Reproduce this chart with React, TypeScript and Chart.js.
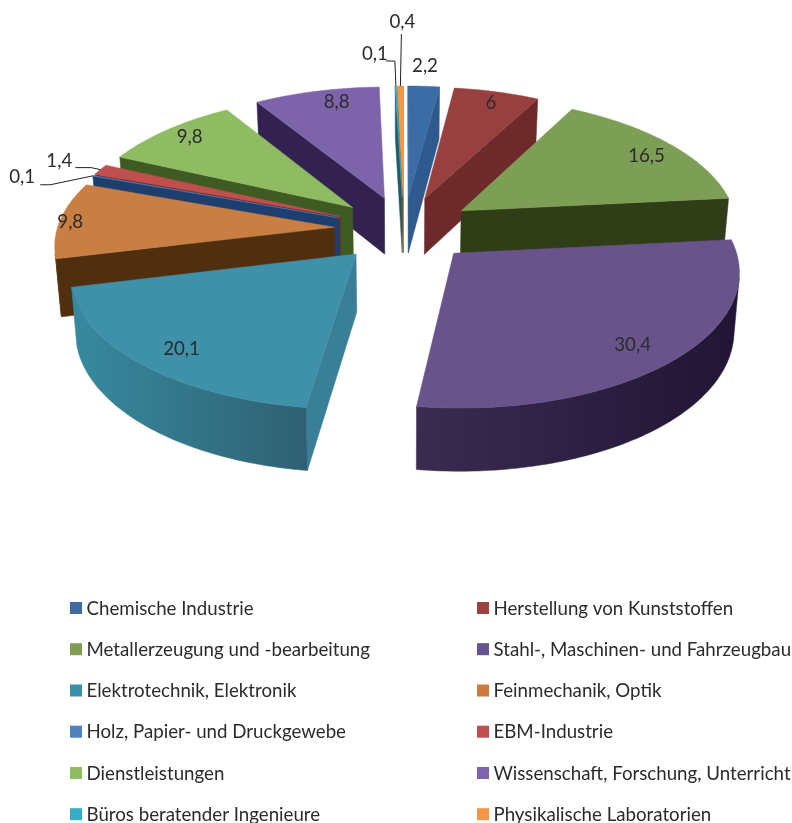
import React, { useEffect, useRef } from "react";
import { Chart, registerables } from "chart.js";

Chart.register(...registerables);

const categories = [
  "Chemische Industrie",
  "Herstellung von Kunststoffen",
  "Metallerzeugung und -bearbeitung",
  "Stahl-, Maschinen- und Fahrzeugbau",
  "Elektrotechnik, Elektronik",
  "Feinmechanik, Optik",
  "Holz, Papier- und Druckgewebe",
  "EBM-Industrie",
  "Dienstleistungen",
  "Wissenschaft, Forschung, Unterricht",
  "Büros beratender Ingenieure",
  "Physikalische Laboratorien",
];
const shares = [2.2, 6, 16.5, 30.4, 20.1, 9.8, 0.1, 1.4, 9.8, 8.8, 0.1, 0.4];
const shareLabels = ["2,2", "6", "16,5", "30,4", "20,1", "9,8", "0,1", "1,4", "9,8", "8,8", "0,1", "0,4"];

const topColors = ["#3C6CA6", "#98403F", "#7D9E55", "#69538B", "#3F90A9", "#C97E43", "#4F81BD", "#C0504D", "#8FBB62", "#7D63A9", "#37A9C4", "#F79646"];
const legendColors = ["#3F6BA5", "#9B4240", "#7F9D52", "#66548F", "#3B8FA8", "#CB7B3D", "#4F81BD", "#C0504D", "#8FBB62", "#7E64AA", "#37ACC8", "#F79646"];
const wallColors = ["#2E5A8F", "#6E2A2A", "#303E18", "#3A2B55", "#3A7F98", "#4F2F0E", "#1E3F6E", "#7A2322", "#405A24", "#33214F", "#1F5A6A", "#A8601F"];
const outerStart = ["#2E5A8F", "#6E2A2A", "#303E18", "#231535", "#2F6072", "#4F2F0E", "#1E3F6E", "#7A2322", "#405A24", "#33214F", "#1F5A6A", "#A8601F"];
const outerEnd = ["#2E5A8F", "#6E2A2A", "#303E18", "#3A2B52", "#37899F", "#4F2F0E", "#1E3F6E", "#7A2322", "#405A24", "#33214F", "#1F5A6A", "#A8601F"];

// label placement relative to the projected mid-angle anchor
const labelRadius = [1.16, 0.82, 0.82, 0.82, 0.82, 0.82, 1, 1, 0.82, 0.82, 1, 1];
const labelNudge: [number, number][] = [[-1, -5], [6, -7], [12, 0], [2, 5], [-3, 5], [-39, 0], [-71, 1], [-41, -9], [-9, -6], [9, -7], [-21, -32], [2, -64]];
const leaderStart: ([number, number] | null)[] = [null, null, null, null, null, null, [18, 8], [16, 7], null, null, [11, 7], [-1, 12]];
const leaderElbow: ([number, number] | null)[] = [null, null, null, null, null, null, [28, 8], [32, 7], null, null, [20, 7], null];

// camera model of the tilted pie
const CX = 404;
const CY = 229;
const WORLD_R = 277;
const TILT = 0.472;
const CAMERA = 2390;
const DEPTH = 57;
const FONT = '18.7px Lato, "Open Sans", sans-serif';
const TEXT = "#2B2B2B";

const project = (X: number, v: number, bottom: boolean): [number, number] => {
  const p = 1 / (1 - v / CAMERA);
  const b = bottom ? 0.984 : 1;
  return [CX + X * p * b, CY + v * TILT * p * b + (bottom ? DEPTH * p : 0)];
};

const area = (pts: [number, number][]) => {
  let s = 0;
  pts.forEach((p, i) => {
    const q = pts[(i + 1) % pts.length];
    s += p[0] * q[1] - q[0] * p[1];
  });
  return s;
};

const poly = (ctx: CanvasRenderingContext2D, pts: [number, number][], fill: any) => {
  ctx.beginPath();
  pts.forEach((p, i) => (i ? ctx.lineTo(p[0], p[1]) : ctx.moveTo(p[0], p[1])));
  ctx.closePath();
  ctx.fillStyle = fill;
  ctx.fill();
  ctx.strokeStyle = fill;
  ctx.lineWidth = 0.5;
  ctx.stroke();
};

const geometry = (arc: any) => {
  const a0 = arc.startAngle + Math.PI / 2;
  const a1 = arc.endAngle + Math.PI / 2;
  const mid = (a0 + a1) / 2;
  const E = arc.options.offset;
  const ox = Math.sin(mid) * E;
  const ov = -Math.cos(mid) * E;
  return { a0, a1, mid, ox, ov };
};

const pie3d = {
  id: "pie3d",
  beforeDatasetDraw(chart: any) {
    const ctx: CanvasRenderingContext2D = chart.ctx;
    const arcs = chart.getDatasetMeta(0).data;
    const order = arcs
      .map((arc: any, i: number) => ({ arc, i, depth: -Math.cos(geometry(arc).mid) }))
      .sort((p: any, q: any) => p.depth - q.depth);
    ctx.save();
    for (const { arc, i } of order) {
      const { a0, a1, ox, ov } = geometry(arc);
      const at = (a: number, r: number, bottom: boolean) =>
        project(ox + Math.sin(a) * r, ov - Math.cos(a) * r, bottom);
      const walls: [number, number][][] = [
        [at(a0, 0, false), at(a0, WORLD_R, false), at(a0, WORLD_R, true), at(a0, 0, true)],
        [at(a1, 0, false), at(a1, WORLD_R, false), at(a1, WORLD_R, true), at(a1, 0, true)],
      ];
      if (area(walls[0]) < 0) poly(ctx, walls[0], wallColors[i]);
      if (area(walls[1]) > 0) poly(ctx, walls[1], wallColors[i]);
      const steps = Math.max(2, Math.ceil((a1 - a0) / 0.02));
      const angle = (s: number) => a0 + ((a1 - a0) * s) / steps;
      let first = -1;
      let last = -1;
      for (let s = 0; s < steps; s++) {
        const strip: [number, number][] = [
          at(angle(s), WORLD_R, false),
          at(angle(s + 1), WORLD_R, false),
          at(angle(s + 1), WORLD_R, true),
          at(angle(s), WORLD_R, true),
        ];
        if (area(strip) < 0) {
          if (first < 0) first = s;
          last = s + 1;
        }
      }
      if (first >= 0) {
        const wall: [number, number][] = [];
        for (let s = first; s <= last; s++) wall.push(at(angle(s), WORLD_R, false));
        for (let s = last; s >= first; s--) wall.push(at(angle(s), WORLD_R, true));
        const grad = ctx.createLinearGradient(at(a0, WORLD_R, true)[0], 0, at(a1, WORLD_R, true)[0], 0);
        grad.addColorStop(0, outerStart[i]);
        grad.addColorStop(1, outerEnd[i]);
        poly(ctx, wall, grad);
      }
      const face: [number, number][] = [at(a0, 0, false)];
      for (let s = 0; s <= steps; s++) face.push(at(angle(s), WORLD_R, false));
      poly(ctx, face, chart.data.datasets[0].backgroundColor[i]);
    }
    ctx.restore();
    return false;
  },
  afterDatasetsDraw(chart: any) {
    const ctx: CanvasRenderingContext2D = chart.ctx;
    const arcs = chart.getDatasetMeta(0).data;
    ctx.save();
    ctx.font = FONT;
    ctx.textAlign = "center";
    ctx.textBaseline = "middle";
    arcs.forEach((arc: any, i: number) => {
      const { mid, ox, ov } = geometry(arc);
      const r = WORLD_R * labelRadius[i];
      const [ax, ay] = project(ox + Math.sin(mid) * r, ov - Math.cos(mid) * r, false);
      const x = ax + labelNudge[i][0];
      const y = ay + labelNudge[i][1];
      ctx.fillStyle = TEXT;
      ctx.fillText(shareLabels[i], x, y);
      const start = leaderStart[i];
      if (start) {
        const elbow = leaderElbow[i];
        ctx.beginPath();
        ctx.moveTo(x + start[0], y + start[1]);
        if (elbow) ctx.lineTo(x + elbow[0], y + elbow[1]);
        ctx.lineTo(ax, ay);
        ctx.strokeStyle = "#222";
        ctx.lineWidth = 1;
        ctx.stroke();
      }
    });
    // two-column legend
    const rows = [608, 649.2, 690.5, 731.7, 773, 814.2];
    const cols = [70, 477];
    ctx.textAlign = "left";
    categories.forEach((name, i) => {
      const x = cols[i % 2];
      const y = rows[Math.floor(i / 2)];
      ctx.fillStyle = legendColors[i];
      ctx.fillRect(x, y - 6, 12, 12);
      ctx.fillStyle = TEXT;
      ctx.fillText(name, x + 16.5, y + 0.5);
    });
    ctx.restore();
  },
};

export default function App() {
  const ref = useRef<HTMLCanvasElement>(null);
  useEffect(() => {
    document.body.style.margin = "0";
    const chart = new Chart(ref.current!, {
      type: "pie",
      data: {
        labels: categories,
        datasets: [{ data: shares, backgroundColor: topColors, borderWidth: 0, offset: 70 }],
      },
      options: {
        animation: false,
        responsive: false,
        radius: WORLD_R,
        plugins: { legend: { display: false }, tooltip: { enabled: false } },
      } as any,
      plugins: [pie3d as any],
    });
    return () => chart.destroy();
  }, []);
  return <canvas ref={ref} width={792} height={823} style={{ display: "block" }} />;
}
